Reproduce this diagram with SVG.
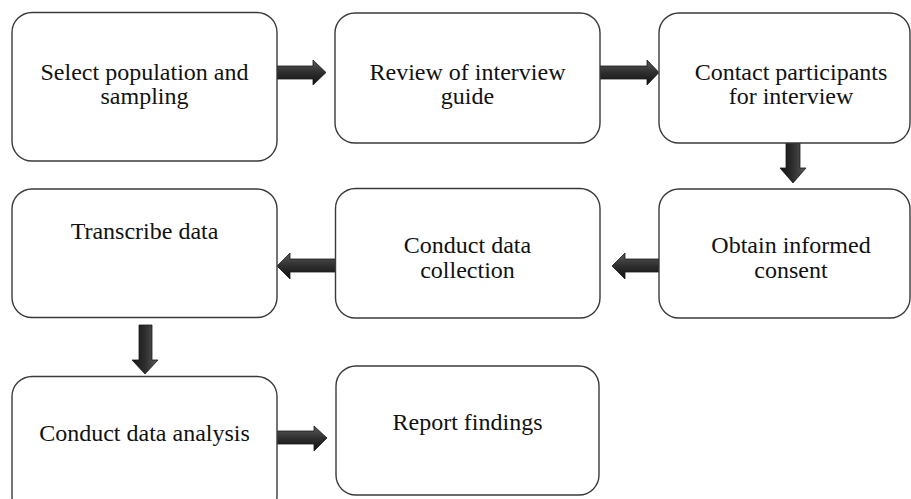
<svg xmlns="http://www.w3.org/2000/svg" width="911" height="499" viewBox="0 0 911 499">
  <style>
    .box { fill: #ffffff; stroke: #3a3a3a; stroke-width: 1.4; }
    .lbl { font-family: "Liberation Serif", "Times New Roman", serif; font-size: 24px; fill: #111111; text-anchor: middle; }
    .arr { stroke: #1a1a1a; stroke-width: 0.8; stroke-linejoin: miter; }
    .h { fill: url(#gradH); }
    .v { fill: url(#gradV); }
  </style>
  <defs>
    <linearGradient id="gradH" x1="0" y1="0" x2="0" y2="1">
      <stop offset="0" stop-color="#5a5a5a"/>
      <stop offset="0.5" stop-color="#2e2e2e"/>
      <stop offset="1" stop-color="#111111"/>
    </linearGradient>
    <linearGradient id="gradV" x1="0" y1="0" x2="1" y2="0">
      <stop offset="0" stop-color="#111111"/>
      <stop offset="0.5" stop-color="#2e2e2e"/>
      <stop offset="1" stop-color="#5a5a5a"/>
    </linearGradient>
  </defs>

  <!-- block arrows between steps -->
  <g id="connectors">
    <polygon class="arr h" points="277,66 313,66 313,60 326,72.5 313,85 313,79 277,79"/>
    <polygon class="arr h" points="600,66 647,66 647,60 659,72.5 647,85 647,79 600,79"/>
    <polygon class="arr v" points="786,143 800,143 800,168 806,168 793,183 780,168 786,168"/>
    <polygon class="arr h" points="659,259 625,259 625,253 612,266 625,279 625,272 659,272"/>
    <polygon class="arr h" points="336,259 290,259 290,253 277,266 290,279 290,272 336,272"/>
    <polygon class="arr v" points="139,325 152,325 152,360 158,360 145,374 132,360 139,360"/>
    <polygon class="arr h" points="276,431 314,431 314,426 327,438 314,451 314,444 276,444"/>
  </g>

  <g id="select-population">
    <rect class="box" x="12" y="12.5" width="265" height="148.5" rx="20"/>
    <text class="lbl" x="144.5" y="80">Select population and</text>
    <text class="lbl" x="144.5" y="104">sampling</text>
  </g>

  <g id="review-guide">
    <rect class="box" x="335" y="13" width="265" height="130" rx="20"/>
    <text class="lbl" x="467.5" y="80">Review of interview</text>
    <text class="lbl" x="467.5" y="104">guide</text>
  </g>

  <g id="contact-participants">
    <rect class="box" x="659" y="13" width="251" height="130" rx="20"/>
    <text class="lbl" x="791" y="80">Contact participants</text>
    <text class="lbl" x="791" y="104">for interview</text>
  </g>

  <g id="transcribe-data">
    <rect class="box" x="12" y="189" width="265" height="128.5" rx="20"/>
    <text class="lbl" x="144.5" y="239">Transcribe data</text>
  </g>

  <g id="data-collection">
    <rect class="box" x="335.5" y="188.5" width="264.5" height="129.5" rx="20"/>
    <text class="lbl" x="467.5" y="253">Conduct data</text>
    <text class="lbl" x="467.5" y="278">collection</text>
  </g>

  <g id="informed-consent">
    <rect class="box" x="659" y="189" width="251" height="129" rx="20"/>
    <text class="lbl" x="791" y="253">Obtain informed</text>
    <text class="lbl" x="791" y="278">consent</text>
  </g>

  <g id="data-analysis">
    <rect class="box" x="12" y="376.5" width="265" height="140" rx="20"/>
    <text class="lbl" x="144.5" y="441">Conduct data analysis</text>
  </g>

  <g id="report-findings">
    <rect class="box" x="336" y="366" width="263" height="129" rx="20"/>
    <text class="lbl" x="467.5" y="430">Report findings</text>
  </g>
</svg>
